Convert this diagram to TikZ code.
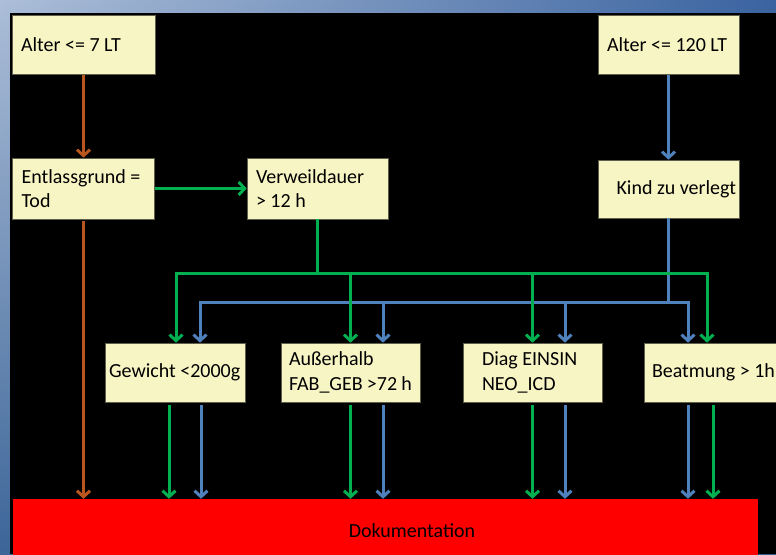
\documentclass[tikz,border=0pt]{standalone}
\usepackage{fontspec}
\setmainfont{Carlito}
\usetikzlibrary{arrows.meta,shadings}
\definecolor{boxfill}{RGB}{248,245,196}
\definecolor{boxline}{RGB}{95,95,75}
\definecolor{docred}{RGB}{255,0,0}
\definecolor{flowgreen}{RGB}{0,176,80}
\definecolor{flowblue}{RGB}{79,129,189}
\definecolor{flowbrown}{RGB}{184,86,30}
\definecolor{bgtl}{RGB}{172,190,216}
\definecolor{bgtr}{RGB}{58,99,160}
\definecolor{bgbl}{RGB}{60,101,152}
\definecolor{bgbr}{RGB}{47,90,144}

\begin{document}
\begin{tikzpicture}[x=1pt,y=-1pt,
    cell/.style={draw=boxline,line width=0.6pt,fill=boxfill,inner xsep=9pt,text width=123pt,
      minimum height=59pt,inner ysep=3pt,align=flush left,font=\fontsize{20}{24.5}\selectfont},
    bus/.style={line width=3pt},
    flow/.style={line width=3pt,-{Straight Barb[length=6pt,width=13pt]}}]
  \useasboundingbox (0,0) rectangle (776,554);
  \clip (0,0) rectangle (776,554);
  %% background
  \shade[upper left=bgtl,upper right=bgtr,lower left=bgbl,lower right=bgbr] (0,0) rectangle (776,554);
  \fill[black] (10,13) rectangle (776,554);
  %% boxes
  \node[cell,text width=125pt] (alter7) at (83.5,45) {Alter <= 7 LT};
  \node[cell] (alter120) at (668.5,45) {Alter <= 120 LT};
  \node[cell,text width=124pt,minimum height=61pt] (entlass) at (83.5,188.5) {Entlassgrund =\\Tod};
  \node[cell,minimum height=61pt] (verweil) at (317.5,188.5) {Verweildauer\\> 12 h};
  \node[cell,minimum height=58pt,inner xsep=3pt,text width=135pt,align=flush right] (kind) at (668.5,189) {Kind zu verlegt};
  \node[cell,inner xsep=4pt,text width=132pt] (gewicht) at (175,372.5) {Gewicht <2000g};
  \node[cell,inner xsep=8pt,text width=123pt] (ausser) at (350.5,372.5) {Außerhalb\\FAB\_GEB >72 h};
  \node[cell,inner xsep=19pt,text width=101pt] (diag) at (532.5,372.5) {Diag EINSIN\\NEO\_ICD};
  \node[cell,inner xsep=8pt,text width=130pt] (beat) at (717,372.5) {Beatmung > 1h};
  \node[fill=docred,minimum width=745pt,minimum height=71pt] (doku) at (385.5,534.5) {};
  \node[font=\fontsize{20}{24.5}\selectfont] (dokutext) at (412,531) {Dokumentation};
  %% connectors
  \coordinate (gbus) at (317.5,273);
  \coordinate (bbus) at (668.5,302);
  \draw[flow,flowbrown] (alter7) -- (entlass);
  \draw[flow,flowbrown,shorten <=2pt] (entlass) -- (entlass |- doku.north);
  \draw[flow,flowblue] (alter120) -- (kind);
  \draw[flow,flowgreen] (entlass) -- (verweil);
  \draw[bus,flowblue] (kind) -- (bbus);
  \foreach \n/\dx in {gewicht/25,ausser/32.5,diag/32.5,beat/-29}
    \draw[flow,flowblue] (bbus) -| ([xshift=\dx pt]\n.north);
  \draw[bus,flowgreen] (verweil) -- (gbus);
  \foreach \n/\dx in {gewicht/1,ausser/0,diag/0,beat/-10}
    \draw[flow,flowgreen] (gbus) -| ([xshift=\dx pt]\n.north);
  %%
  \foreach \n/\dx in {gewicht/26,ausser/32.5,diag/32.5,beat/-29}
    \draw[flow,flowblue,shorten <=3pt] ([xshift=\dx pt]\n.south) -- ([xshift=\dx pt]\n.south |- doku.north);
  \foreach \n/\dx in {gewicht/-6,ausser/0,diag/0,beat/-4}
    \draw[flow,flowgreen,shorten <=3pt] ([xshift=\dx pt]\n.south) -- ([xshift=\dx pt]\n.south |- doku.north);
\end{tikzpicture}
\end{document}
